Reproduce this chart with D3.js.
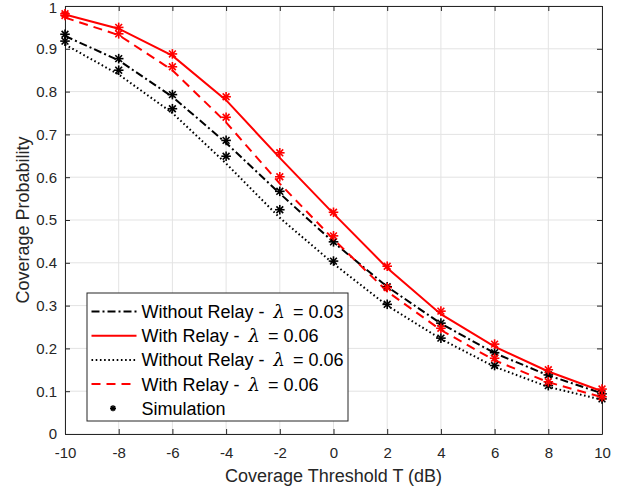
<!DOCTYPE html>
<html lang="en">
<head>
  <meta charset="UTF-8">
  <title>Coverage Probability</title>
  <script src="https://d3js.org/d3.v7.min.js"></script>
  <style>
    body { margin: 0; background: #fff; }
    svg { font-family: "Liberation Sans", Arial, sans-serif; }
    .grid line { stroke: #e3e3e3; stroke-width: 1px; }
  </style>
</head>
<body>
  <svg width="628" height="494"></svg>

  <script>
    // data
    const thresholds = [-10, -8, -6, -4, -2, 0, 2, 4, 6, 8, 10];
    const xTicks = [-10, -8, -6, -4, -2, 0, 2, 4, 6, 8, 10];
    const yTicks = [0, 0.1, 0.2, 0.3, 0.4, 0.5, 0.6, 0.7, 0.8, 0.9, 1];

    // analytical curves
    const noRelay003 = [0.930, 0.873, 0.788, 0.680, 0.562, 0.448, 0.344, 0.258, 0.189, 0.137, 0.095];
    const relay006a  = [0.980, 0.947, 0.884, 0.780, 0.645, 0.515, 0.388, 0.280, 0.204, 0.146, 0.100];
    const noRelay006 = [0.910, 0.840, 0.750, 0.632, 0.505, 0.398, 0.300, 0.222, 0.157, 0.110, 0.080];
    const relay006b  = [0.973, 0.932, 0.850, 0.728, 0.585, 0.455, 0.333, 0.243, 0.172, 0.121, 0.086];

    // simulation points
    const simNoRelay003 = [0.934, 0.877, 0.793, 0.686, 0.567, 0.449, 0.344, 0.259, 0.190, 0.138, 0.094];
    const simRelay006a  = [0.982, 0.950, 0.888, 0.788, 0.657, 0.518, 0.392, 0.287, 0.210, 0.150, 0.105];
    const simNoRelay006 = [0.918, 0.850, 0.760, 0.649, 0.524, 0.404, 0.303, 0.224, 0.160, 0.113, 0.082];
    const simRelay006b  = [0.978, 0.935, 0.858, 0.740, 0.601, 0.463, 0.342, 0.247, 0.177, 0.122, 0.087];

    const series = [
      { name: "Without Relay -", lam: "0.03", color: "#000", dash: "8,3,2,3", y: noRelay003, sim: simNoRelay003 },
      { name: "With Relay -", lam: "0.06", color: "#ff0000", dash: null, y: relay006a, sim: simRelay006a },
      { name: "Without Relay -", lam: "0.06", color: "#000", dash: "1.6,2.6", y: noRelay006, sim: simNoRelay006 },
      { name: "With Relay -", lam: "0.06", color: "#ff0000", dash: "9,6", y: relay006b, sim: simRelay006b }
    ];

    const svg = d3.select("svg"),
      margin = { top: 6, right: 26, bottom: 60, left: 65 },
      width = +svg.attr("width") - margin.left - margin.right,
      height = +svg.attr("height") - margin.top - margin.bottom;

    const g = svg.append("g").attr("transform", `translate(${margin.left},${margin.top})`);

    const x = d3.scaleLinear().domain([-10, 10]).range([0, width]);
    const y = d3.scaleLinear().domain([0, 1]).range([height, 0]);

    // grid
    g.append("g").attr("class", "grid")
      .selectAll("line.v").data(xTicks).enter().append("line")
      .attr("x1", d => x(d)).attr("x2", d => x(d)).attr("y1", 0).attr("y2", height);
    g.select(".grid")
      .selectAll("line.h").data(yTicks).enter().append("line")
      .attr("x1", 0).attr("x2", width).attr("y1", d => y(d)).attr("y2", d => y(d));

    // axes (ticks inside, MATLAB style)
    g.append("g").attr("class", "axis")
      .attr("transform", `translate(0,${height})`)
      .call(d3.axisBottom(x).tickValues(xTicks).tickSizeInner(-5).tickSizeOuter(0).tickPadding(13).tickFormat(d => String(d)));
    g.append("g").attr("class", "axis")
      .call(d3.axisLeft(y).tickValues(yTicks).tickSizeInner(-5).tickSizeOuter(0).tickPadding(8).tickFormat(d => d === 0 || d === 1 ? String(d) : d3.format(".1f")(d)));
    g.append("g").attr("class", "axis")
      .call(d3.axisTop(x).tickValues(xTicks).tickSizeInner(-5).tickSizeOuter(0).tickFormat(""));
    g.append("g").attr("class", "axis")
      .attr("transform", `translate(${width},0)`)
      .call(d3.axisRight(y).tickValues(yTicks).tickSizeInner(-5).tickSizeOuter(0).tickFormat(""));
    g.selectAll(".axis").attr("font-family", null).attr("font-size", null);
    g.selectAll(".axis path").attr("stroke", "#262626");
    g.selectAll(".axis line").attr("stroke", "#262626");
    g.selectAll(".axis text").attr("fill", "#262626").style("font-size", "15px");
    // keep the top "1" label inside the page
    g.selectAll(".axis .tick text").filter(d => d === 1).attr("dy", "0.42em");

    // lines
    const line = d3.line().x((d, i) => x(thresholds[i])).y(d => y(d));
    series.forEach(s => {
      g.append("path")
        .datum(s.y)
        .attr("fill", "none")
        .attr("stroke", s.color)
        .attr("stroke-width", 2)
        .attr("stroke-dasharray", s.dash)
        .attr("d", line);
    });

    // asterisk markers
    function star(sel, r) {
      [0, 45, 90, 135].forEach(a => {
        const rad = a * Math.PI / 180;
        sel.append("line")
          .attr("x1", -r * Math.cos(rad)).attr("y1", -r * Math.sin(rad))
          .attr("x2", r * Math.cos(rad)).attr("y2", r * Math.sin(rad));
      });
    }
    series.forEach(s => {
      s.sim.forEach((v, i) => {
        const m = g.append("g")
          .attr("transform", `translate(${x(thresholds[i])},${y(v)})`)
          .attr("stroke", s.color)
          .attr("stroke-width", 1.6);
        star(m, 4.8);
      });
    });

    // axis labels
    svg.append("text")
      .attr("x", margin.left + width / 2).attr("y", 482)
      .attr("text-anchor", "middle").attr("fill", "#262626").style("font-size", "18px")
      .text("Coverage Threshold T (dB)");
    svg.append("text")
      .attr("transform", `translate(29,${margin.top + height / 2}) rotate(-90)`)
      .attr("text-anchor", "middle").attr("fill", "#262626").style("font-size", "18px")
      .text("Coverage Probability");

    // legend
    const lg = svg.append("g").attr("transform", "translate(87,293)");
    lg.append("rect").attr("width", 261).attr("height", 128)
      .attr("fill", "#fff").attr("stroke", "#262626").attr("stroke-width", 1);
    const rowY = i => 18.5 + i * 24.2;
    series.forEach((s, i) => {
      lg.append("line")
        .attr("x1", 4.5).attr("x2", 49.5).attr("y1", rowY(i)).attr("y2", rowY(i))
        .attr("stroke", s.color).attr("stroke-width", 2).attr("stroke-dasharray", s.dash);
      const t = lg.append("text").attr("x", 54.5).attr("y", rowY(i) + 6.5)
        .attr("fill", "#000").style("font-size", "18px");
      t.append("tspan").text(s.name);
      t.append("tspan").attr("dx", 9).style("font-family", "'DejaVu Serif', serif").style("font-style", "italic").text("λ");
      t.append("tspan").attr("dx", 8).text("= " + s.lam);
    });
    const sm = lg.append("g").attr("transform", `translate(26,${rowY(4)})`)
      .attr("stroke", "#000").attr("stroke-width", 1.6);
    star(sm, 3);
    lg.append("text").attr("x", 54.5).attr("y", rowY(4) + 6.5)
      .attr("fill", "#000").style("font-size", "18px").text("Simulation");
  </script>
</body>
</html>
